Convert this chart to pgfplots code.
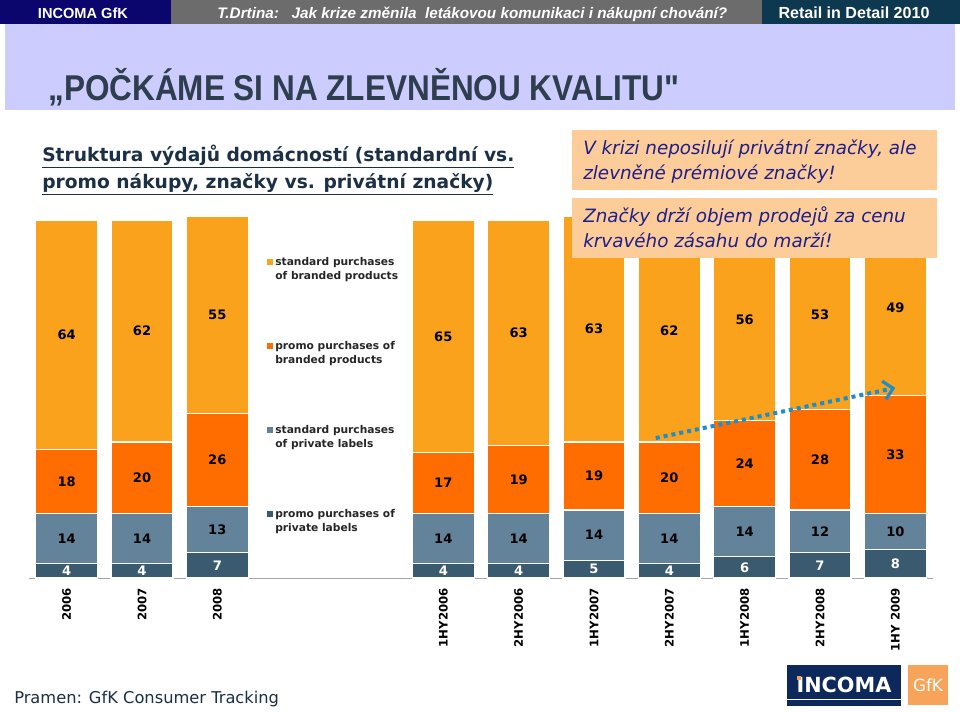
\documentclass[border=0pt]{standalone}
\usepackage{fontspec}
\setmainfont{DejaVu Sans}
\newfontfamily\lib{Liberation Sans}
\usepackage{graphicx}
\usepackage{pgfplots}
\pgfplotsset{compat=1.18}
\usepackage{pgfplotstable}
\usetikzlibrary{arrows.meta}

\definecolor{hdrnavy}{RGB}{10,6,110}
\definecolor{hdrgrey}{RGB}{108,108,108}
\definecolor{hdrteal}{RGB}{14,56,80}
\definecolor{lav}{RGB}{204,204,255}
\definecolor{titlecol}{RGB}{47,62,78}
\definecolor{subcol}{RGB}{27,47,69}
\definecolor{peach}{RGB}{252,204,153}
\definecolor{calltxt}{RGB}{30,30,140}
\definecolor{sbcol}{RGB}{250,162,27}
\definecolor{pbcol}{RGB}{255,108,0}
\definecolor{spcol}{RGB}{98,131,153}
\definecolor{ppcol}{RGB}{58,90,112}
\definecolor{arrowcol}{RGB}{27,142,210}
\definecolor{logonavy}{RGB}{13,40,90}
\definecolor{logoorange}{RGB}{247,164,90}

\pgfplotstableread{
x pp sp pb sb
0 4 14 18 64
1 4 14 20 62
2 7 13 26 55
5 4 14 17 65
6 4 14 19 63
7 5 14 19 63
8 4 14 20 62
9 6 14 24 56
10 7 12 28 53
11 8 10 33 49
}\datatable

\begin{document}
\begin{tikzpicture}
% background and header
\begin{scope}[x=0.75pt,y=-0.75pt]
\fill[white] (0,0) rectangle (960,711);
\useasboundingbox (0,0) rectangle (960,711);
\fill[hdrnavy] (0,0) rectangle (171,24);
\fill[hdrgrey] (171,0) rectangle (762,24);
\fill[hdrteal] (762,0) rectangle (960,24);
\node[anchor=base, inner sep=0, text=white] at (83,18.5)
  {\resizebox{67.5pt}{!}{\lib\bfseries\fontsize{11}{12}\selectfont INCOMA GfK}};
\node[anchor=base west, inner sep=0, text=white] at (217,18.5)
  {\resizebox{382.5pt}{!}{\lib\bfseries\itshape\fontsize{11}{12}\selectfont T.Drtina:\ \ \ Jak krize změnila\ \ letákovou komunikaci i nákupní chování?}};
\node[anchor=base, inner sep=0, text=white] at (854,18.5)
  {\resizebox{113.25pt}{!}{\lib\bfseries\fontsize{11}{12}\selectfont Retail in Detail 2010}};
\fill[lav] (5,24) rectangle (955,110);
\node[anchor=base west, inner sep=0, text=titlecol] at (48,100)
  {\scalebox{0.985}[1.12]{\lib\bfseries\fontsize{24}{26}\selectfont „POČKÁME SI NA ZLEVNĚNOU KVALITU"}};
\node[anchor=base west, inner sep=0, align=left, text=subcol,
  font=\bfseries\fontsize{14}{20.25}\selectfont] at (42,188)
  {\underline{Struktura výdajů domácností (standardní vs.}\\\underline{promo nákupy, značky vs. privátní značky)}};
\end{scope}

\begin{axis}[
  at={(21.75pt,-433.5pt)}, anchor=south west,
  scale only axis, width=678pt, height=271.185pt,
  xmin=-0.5, xmax=11.5, ymin=0, ymax=101,
  ybar stacked, bar width=46.5pt,
  axis x line*=bottom, axis y line=none,
  x axis line style={draw=gray!70, line width=0.75pt},
  xtick={0,1,2,5,6,7,8,9,10,11},
  xticklabels={2006,2007,2008,1HY2006,2HY2006,1HY2007,2HY2007,1HY2008,2HY2008,1HY 2009},
  xtick style={draw=none},
  xticklabel style={rotate=90, anchor=east, text=black, font=\bfseries\fontsize{8.8}{10}\selectfont},
  xticklabel shift=4pt,
  extra x ticks={-0.5,0.5,1.5,2.5,3.5,4.5,5.5,6.5,7.5,8.5,9.5,10.5},
  extra x tick labels={},
  extra x tick style={major tick length=4.5pt, tick align=outside, tick style={draw=gray!70, line width=0.75pt}},
  ytick=\empty,
  visualization depends on=rawy\as\rawy,
  nodes near coords={\pgfmathprintnumber[assume math mode=true]{\rawy}},
  every node near coord/.append style={anchor=center, font=\bfseries\fontsize{9.8}{10}\selectfont},
  every axis plot post/.append style={legend image code/.code={\fill[##1,draw=none] (0pt,3pt) rectangle (4.5pt,7.5pt);}},
  reverse legend,
  legend style={at={(axis cs:2.66,90.3)}, anchor=north west, draw=none, fill=none,
    inner sep=0pt, row sep=42pt, font=\bfseries\fontsize{8}{10.5}\selectfont, text=black!85,
    cells={anchor=west, align=left}, nodes={inner sep=1.5pt}},
]
\addplot[fill=ppcol, draw=white, line width=0.8pt, every node near coord/.append style={text=white}] table[x=x,y=pp] {\datatable};
\addlegendentry{promo purchases of\\private labels}
\addplot[fill=spcol, draw=white, line width=0.8pt, every node near coord/.append style={text=black}] table[x=x,y=sp] {\datatable};
\addlegendentry{standard purchases\\of private labels}
\addplot[fill=pbcol, draw=white, line width=0.8pt, every node near coord/.append style={text=black}] table[x=x,y=pb] {\datatable};
\addlegendentry{promo purchases of\\branded products}
\addplot[fill=sbcol, draw=white, line width=0.8pt, every node near coord/.append style={text=black}] table[x=x,y=sb] {\datatable};
\addlegendentry{standard purchases\\of branded products}
\coordinate (arrA) at (axis cs:7.82,39.1);
\coordinate (arrB) at (axis cs:11.0,53.1);
\end{axis}
\draw[arrowcol, line width=3pt, dash pattern=on 3pt off 3pt,
  -{Straight Barb[length=7pt, width=14pt, line width=2.4pt]}] (arrA) -- (arrB);

\begin{scope}[x=0.75pt,y=-0.75pt]
\fill[peach] (572,130) rectangle (937,190);
\fill[peach] (572,198) rectangle (937,258);
\node[anchor=base west, inner sep=0, align=left, text=calltxt,
  font=\itshape\fontsize{13.75}{18.4}\selectfont] at (583,179)
  {V krizi neposilují privátní značky, ale\\zlevněné prémiové značky!};
\node[anchor=base west, inner sep=0, align=left, text=calltxt,
  font=\itshape\fontsize{13.75}{18.4}\selectfont] at (583,247)
  {Značky drží objem prodejů za cenu\\krvavého zásahu do marží!};
\node[anchor=base west, inner sep=0, text=subcol, font=\fontsize{12.2}{14}\selectfont] at (14,703)
  {Pramen: GfK Consumer Tracking};
\fill[logonavy] (787,665) rectangle (901,706);
\draw[white, line width=0.75pt] (787,699) -- (901,699);
\node[anchor=base, inner sep=0, text=white, font=\bfseries\fontsize{15.6}{16}\selectfont] at (844,692) {INCOMA};
\fill[logoorange] (797,676) rectangle (801,680);
\fill[logoorange] (908,665) rectangle (948,705);
\node[anchor=base, inner sep=0, text=white, font=\fontsize{12.6}{13}\selectfont] at (928,691) {GfK};
\end{scope}
\end{tikzpicture}
\end{document}
